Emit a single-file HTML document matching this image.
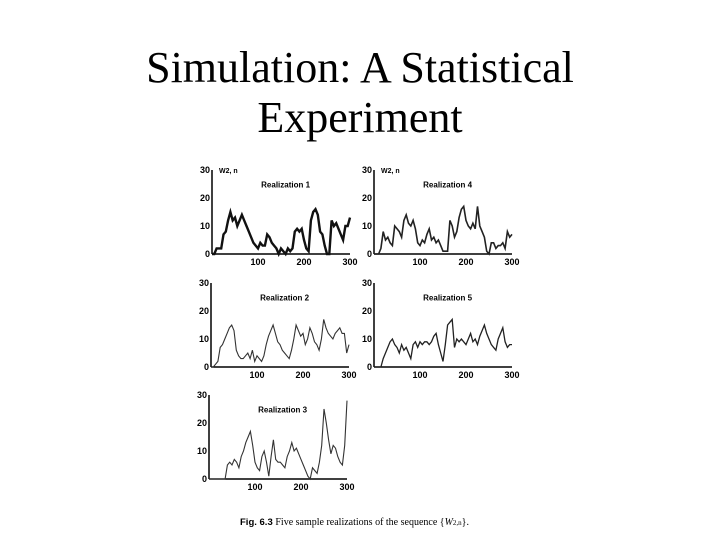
<!DOCTYPE html>
<html><head><meta charset="utf-8"><style>
body{margin:0;background:#fff;width:720px;height:540px;overflow:hidden}
.t{position:absolute;left:0;width:720px;text-align:center;font-family:"Liberation Serif",serif;font-size:44px;color:#000;line-height:50px}
</style></head><body>
<div class="t" style="top:43px">Simulation: A Statistical<br>Experiment</div>
<svg id="fig" width="720" height="540" style="position:absolute;left:0;top:0">
<text x="240" y="525" font-family="Liberation Sans,sans-serif" font-size="9.5" font-weight="bold">Fig. 6.3 <tspan font-family="Liberation Serif,serif" font-weight="normal" font-size="10">  Five sample realizations of the sequence {<tspan font-style="italic">W</tspan><tspan font-size="7">2,n</tspan>}.</tspan></text>
</svg>
<script>
const xStep = 5;
const yTicks = [0,10,20,30];
const xTicks = [100,200,300];
const r1 = [0,0,2,2,2,7,8,12,15,12,13,10,12,14,12,10,8,6,4,3,2,4,3,3,7,6,4,3,2,0,2,1,0,2,1,2,8,9,8,9,5,2,1,12,15,16,14,8,7,3,0,0,12,10,11,9,7,5,10,10,13];
const r2 = [0,0,1,2,7,8,10,12,14,15,13,6,4,3,3,4,5,3,6,2,4,3,2,4,8,11,13,15,12,9,8,6,5,4,3,6,10,15,13,11,12,8,10,14,12,9,8,6,10,17,14,12,11,10,12,13,14,12,12,5,8];
const r3 = [0,0,0,0,0,0,0,0,5,6,5,7,6,4,8,10,13,15,17,12,6,4,3,8,10,6,1,8,14,7,6,6,5,4,8,10,13,10,11,9,7,5,3,1,0,4,3,2,6,12,25,20,14,9,12,11,8,6,5,12,28];
const r4 = [0,0,0,2,8,5,6,4,3,10,9,8,6,12,14,11,10,12,9,4,3,5,4,7,9,5,6,4,5,3,1,1,1,12,10,6,8,13,16,17,12,10,9,11,9,17,10,8,6,1,0,4,4,2,3,3,4,2,8,6,7];
const r5 = [0,0,0,0,3,5,7,9,10,8,7,5,8,6,7,5,3,8,9,7,9,8,9,9,8,9,11,12,8,5,2,8,15,16,17,7,10,9,10,9,8,10,12,9,10,8,11,13,15,12,10,8,7,6,10,12,14,9,7,8,8];
const panels=[
 {name:'realization-1',data:r1,x0:212,y0:254,label:'Realization 1',w:2.4,c:'#111',wlab:true},
 {name:'realization-4',data:r4,x0:374,y0:254,label:'Realization 4',w:1.6,c:'#222',wlab:true},
 {name:'realization-2',data:r2,x0:211,y0:367,label:'Realization 2',w:1.1,c:'#333'},
 {name:'realization-5',data:r5,x0:374,y0:367,label:'Realization 5',w:1.3,c:'#222'},
 {name:'realization-3',data:r3,x0:209,y0:479,label:'Realization 3',w:1.1,c:'#333'}];
const NS='http://www.w3.org/2000/svg', svg=document.getElementById('fig');
function mk(t,a,p){const e=document.createElementNS(NS,t);for(const k in a)e.setAttribute(k,a[k]);(p||svg).appendChild(e);return e;}
panels.forEach(p=>{
 const g=mk('g',{});
 
 
 const sx=v=>p.x0+v*0.46, sy=v=>p.y0-v*2.8;
 mk('line',{x1:p.x0,y1:sy(30),x2:p.x0,y2:p.y0,stroke:'#000','stroke-width':1.5},g);
 mk('line',{x1:p.x0,y1:p.y0,x2:sx(300),y2:p.y0,stroke:'#000','stroke-width':1.5},g);
 yTicks.forEach(v=>{const t=mk('text',{x:p.x0-2,y:sy(v)+3,'text-anchor':'end','font-family':'Liberation Sans,sans-serif','font-size':9,'font-weight':'bold'},g);t.textContent=v;
   });
 xTicks.forEach(v=>{const t=mk('text',{x:sx(v),y:p.y0+11,'text-anchor':'middle','font-family':'Liberation Sans,sans-serif','font-size':9,'font-weight':'bold'},g);t.textContent=v;
   });
 const l=mk('text',{x:sx(160),y:sy(23.7),'text-anchor':'middle','font-family':'Liberation Sans,sans-serif','font-size':8,'font-weight':'bold'},g);l.textContent=p.label;
 
 if(p.wlab){const w=mk('text',{x:p.x0+7,y:sy(29),'font-family':'Liberation Sans,sans-serif','font-size':7,'font-weight':'bold'},g);w.textContent='W2, n';
  }
 const pts=p.data.map((v,i)=>sx(i*xStep).toFixed(1)+','+sy(v).toFixed(1)).join(' ');
 const pl=mk('polyline',{points:pts,fill:'none',stroke:p.c,'stroke-width':p.w,'stroke-linejoin':'miter'},g);
 
 
});
</script>
</body></html>
